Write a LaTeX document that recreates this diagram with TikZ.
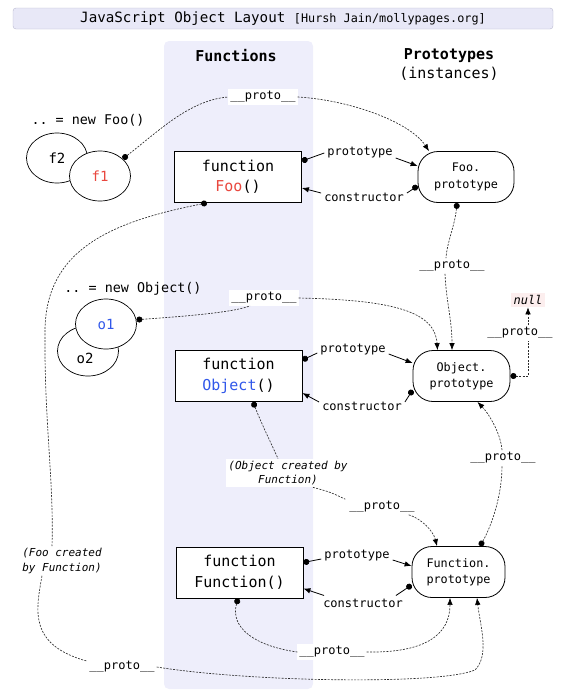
\documentclass[tikz,border=0pt]{standalone}
\usepackage{fontspec}
\setmonofont{DejaVu Sans Mono}
\usetikzlibrary{arrows.meta,shapes.geometric}
\definecolor{lavender}{HTML}{EEEEFB}
\definecolor{titlebg}{HTML}{E8E8F7}
\definecolor{titleline}{HTML}{B8B8CE}
\definecolor{foored}{HTML}{E9473E}
\definecolor{objblue}{HTML}{3158EA}
\definecolor{nullbg}{HTML}{FCEEEE}
\definecolor{linkgray}{HTML}{2C2C2C}
\newcommand{\prt}{\_\_proto\_\_}
\begin{document}
\begin{tikzpicture}[x=1pt,y=-1pt,
  every node/.style={font=\ttfamily},
  fnbox/.style={draw, line width=0.8pt, fill=white, minimum width=127pt, minimum height=51pt, inner sep=0pt, align=center, font=\fontsize{15}{20.5}\selectfont\ttfamily},
  protobox/.style={draw, line width=0.8pt, fill=white, rounded corners=20pt, minimum height=51pt, inner sep=0pt, align=center, font=\fontsize{11.8}{16.5}\selectfont\ttfamily},
  inst/.style={draw, ellipse, line width=0.7pt, fill=white, minimum width=61pt, minimum height=50pt, inner sep=0pt, font=\fontsize{14}{16}\selectfont\ttfamily},
  lbl/.style={inner sep=3pt, font=\fontsize{12}{14}\selectfont\ttfamily},
  wlbl/.style={inner sep=2pt, fill=white, font=\fontsize{12}{14}\selectfont\ttfamily},
  note/.style={inner sep=2pt, align=center, font=\fontsize{11}{14.5}\selectfont\ttfamily\itshape},
  solidlink/.style={line width=0.8pt, black},
  protolink/.style={line width=0.65pt, linkgray, dash pattern=on 2pt off 1.3pt},
  dotstart/.style={arrows={Circle[length=6pt,color=black]-}},
  arrowend/.style={arrows={-Latex[length=7pt,width=5.5pt,color=black]}},
]
\useasboundingbox (0,0) rectangle (561,696);

% backgrounds
\node[draw=titleline, fill=titlebg, rounded corners=3pt, minimum width=540pt, minimum height=21pt, inner sep=0pt] (title) at (283,18.5)
  {\fontsize{14.2}{16}\selectfont JavaScript Object Layout \fontsize{11.8}{14}\selectfont[Hursh Jain/mollypages.org]};
\node[fill=lavender, rounded corners=5pt, minimum width=149pt, minimum height=648pt, inner sep=0pt] (col) at (238.5,365) {};

% headers
\node[font=\fontsize{15}{18}\selectfont\ttfamily\bfseries] (hfun) at (236,56) {Functions};
\node[align=center, font=\fontsize{15}{19}\selectfont\ttfamily] (hproto) at (449,65) {\textbf{Prototypes}\\(instances)};

% instances
\node[font=\fontsize{13.4}{16}\selectfont\ttfamily] (newfoo) at (88,120) {.. = new Foo()};
\node[inst] (f2) at (57,158) {f2};
\node[inst, text=foored] (f1) at (100,176) {f1};
\node[font=\fontsize{13.4}{16}\selectfont\ttfamily] (newobj) at (133,289) {.. = new Object()};
\node[inst] (o2) at (88,351) {};
\node[font=\fontsize{14}{16}\selectfont\ttfamily] (o2t) at (85,358) {o2};
\node[inst, text=objblue] (o1) at (106,324) {o1};

% functions
\node[fnbox] (foo) at (238,177) {function\\\textcolor{foored}{Foo}()};
\node[fnbox] (obj) at (238.5,376) {function\\\textcolor{objblue}{Object}()};
\node[fnbox] (fun) at (239.5,572.5) {function\\Function()};

% prototypes
\node[protobox, minimum width=96pt] (fooP) at (466,177) {Foo.\\prototype};
\node[protobox, minimum width=97pt] (objP) at (461.5,376) {Object.\\prototype};
\node[protobox, minimum width=93pt] (funP) at (458.5,572) {Function.\\prototype};
\node[fill=nullbg, inner sep=2.5pt, font=\fontsize{12}{14}\selectfont\ttfamily\itshape] (nul) at (528,300) {null};

% labels
\node[wlbl] (pl1) at (263,97) {\prt};
\node[lbl] (fpl) at (360,153) {prototype};
\node[lbl] (fcl) at (364,197) {constructor};
\node[wlbl] (pl3) at (452,266) {\prt};
\node[wlbl] (pl4) at (264,298) {\prt};
\node[lbl] (opl) at (353,350) {prototype};
\node[lbl] (ocl) at (362,406) {constructor};
\node[wlbl] (pl6) at (520,333) {\prt};
\node[note, fill=white] (ocnote) at (288,473) {(Object created by\\Function)};
\node[wlbl] (pl7) at (382,507) {\prt};
\node[lbl] (ppl) at (357,556) {prototype};
\node[lbl] (pcl) at (363,603) {constructor};
\node[wlbl] (pl11) at (503,458) {\prt};
\node[wlbl] (pl9) at (332,652) {\prt};
\node[note] (focnote) at (62,561) {(Foo created\\by Function)};
\node[wlbl] (pl10) at (122,667) {\prt};

% prototype / constructor links
\draw[solidlink, dotstart] ([yshift=16pt]foo.east) -- (fpl.west);
\draw[solidlink, arrowend] ([yshift=-5pt]fpl.east) -- ([yshift=11pt]fooP.west);
\draw[solidlink, dotstart] ([yshift=-9pt]fooP.west) -- ([yshift=4pt]fcl.east);
\draw[solidlink, arrowend] ([yshift=4pt]fcl.west) -- ([yshift=-11pt]foo.east);

\draw[solidlink, dotstart] ([yshift=16pt]obj.east) -- ([yshift=-3pt]opl.west);
\draw[solidlink, arrowend] ([yshift=-4pt]opl.east) -- ([yshift=13pt]objP.west);
\draw[solidlink, dotstart] ([yshift=-14pt]objP.west) -- ([yshift=4pt]ocl.east);
\draw[solidlink, arrowend] ([yshift=4pt]ocl.west) -- ([yshift=-17pt]obj.east);

\draw[solidlink, dotstart] ([yshift=10pt]fun.east) -- ([yshift=-3pt]ppl.west);
\draw[solidlink, arrowend] ([yshift=-4pt]ppl.east) -- ([yshift=6pt]funP.west);
\draw[solidlink, dotstart] ([yshift=-13pt]funP.west) -- ([xshift=-10pt]pcl.north east);
\draw[solidlink, arrowend] ([xshift=4pt]pcl.north west) -- ([yshift=-16pt]fun.east);

% __proto__ links
\draw[protolink, dotstart] (f1.37) .. controls (160,130) and (190,100) .. (pl1.west);
\draw[protolink, arrowend] (pl1.east) .. controls (350,100) and (410,122) .. ([xshift=-37pt]fooP.north);

\draw[protolink, dotstart] ([xshift=-9pt]fooP.south) .. controls (455,225) and (447,242) .. ([xshift=-6pt]pl3.north);
\draw[protolink, arrowend] ([xshift=-7pt]pl3.south) .. controls (446,300) and (452,320) .. ([xshift=-9.5pt]objP.north);

\draw[protolink, dotstart] (o1.8) .. controls (190,316) and (235,312) .. ([xshift=-14pt]pl4.south);
\draw[protolink, arrowend] (pl4.east) .. controls (395,300) and (435,312) .. ([xshift=-24pt]objP.north);

\coordinate (nc) at (528,376);
\draw[protolink, dotstart] (objP.east) -- (nc) -- (nc |- pl6.south);
\draw[protolink, arrowend] (nc |- pl6.north) -- (nc |- nul.south);

\draw[protolink, dotstart] ([xshift=14.5pt]obj.south) .. controls (262,425) and (272,445) .. ([xshift=-10pt]ocnote.north);
\draw[protolink] ([xshift=25pt]ocnote.south) .. controls (330,492) .. ([xshift=-2pt]pl7.north west);
\draw[protolink, arrowend] ([xshift=-8pt]pl7.south east) .. controls (420,518) and (433,530) .. ([xshift=-21.5pt]funP.north);

\draw[protolink, dotstart] ([xshift=-1.5pt]fun.south) .. controls (230,628) and (255,646) .. (pl9.west);
\draw[protolink, arrowend] (pl9.east) .. controls (425,653) and (450,635) .. ([xshift=-8.5pt]funP.south);

\draw[protolink, dotstart] ([xshift=-31pt]foo.south) .. controls (110,222) and (46,250) .. (45,330) .. controls (44,420) and (54,480) .. ([xshift=-10pt]focnote.north);
\draw[protolink] ([xshift=-20pt]focnote.south) .. controls (36,610) and (28,645) .. ([yshift=-2pt]pl10.north west);
\draw[protolink, arrowend] (pl10.east) .. controls (250,682) and (440,685) .. (475,670) .. controls (490,655) and (480,625) .. ([xshift=18.5pt]funP.south);

\draw[protolink, dotstart] ([xshift=21.5pt]funP.north) .. controls (492,525) and (502,495) .. ([xshift=-1pt]pl11.south);
\draw[protolink, arrowend] ([xshift=-1pt]pl11.north) .. controls (501,435) and (490,415) .. ([xshift=16pt]objP.south);
\end{tikzpicture}
\end{document}
